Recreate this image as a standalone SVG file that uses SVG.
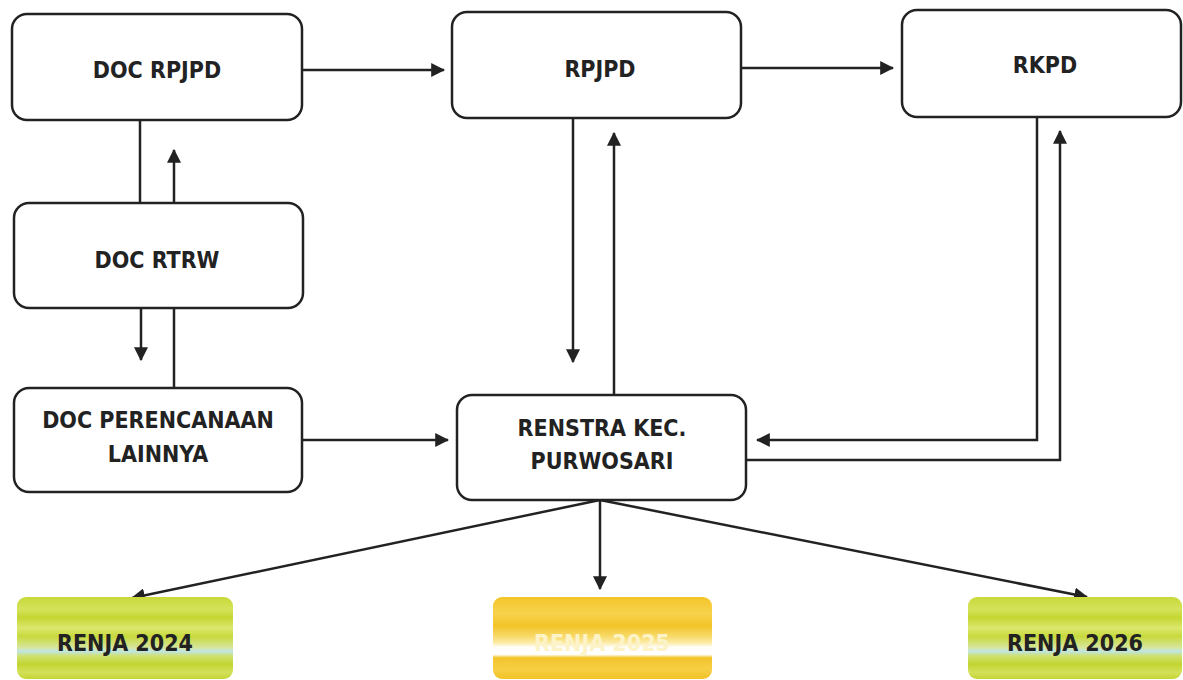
<svg xmlns="http://www.w3.org/2000/svg" width="1183" height="680" viewBox="0 0 1183 680">
<style>
.box{fill:#fff;stroke:#222;stroke-width:2.5}
.t{font-family:"DejaVu Sans Condensed","DejaVu Sans",sans-serif;font-stretch:condensed;font-weight:bold;font-size:23px;fill:#222;text-anchor:middle}
.ln{fill:none;stroke:#222;stroke-width:2.5}
</style>
<defs>
<marker id="ah" markerWidth="14" markerHeight="14" viewBox="0 0 12 12" refX="11" refY="6" orient="auto" markerUnits="userSpaceOnUse">
<path d="M0,0 L12,6 L0,12 Z" fill="#222"/>
</marker>
<linearGradient id="green" x1="0" y1="0" x2="0" y2="1">
<stop offset="0" stop-color="#c7d93a"/>
<stop offset="0.15" stop-color="#d4e25a"/>
<stop offset="0.25" stop-color="#c5d632"/>
<stop offset="0.38" stop-color="#dbe76e"/>
<stop offset="0.48" stop-color="#c8d93c"/>
<stop offset="0.62" stop-color="#d6e6a0"/>
<stop offset="0.66" stop-color="#bfe6e6"/>
<stop offset="0.72" stop-color="#d0e070"/>
<stop offset="0.82" stop-color="#c3d531"/>
<stop offset="0.92" stop-color="#d3e05a"/>
<stop offset="1" stop-color="#c4d534"/>
</linearGradient>
<linearGradient id="yellow" x1="0" y1="0" x2="0" y2="1">
<stop offset="0" stop-color="#f4c52a"/>
<stop offset="0.2" stop-color="#f7d24c"/>
<stop offset="0.35" stop-color="#f3c428"/>
<stop offset="0.48" stop-color="#f8da6a"/>
<stop offset="0.55" stop-color="#fbe9a0"/>
<stop offset="0.62" stop-color="#ffffff"/>
<stop offset="0.70" stop-color="#ffffff"/>
<stop offset="0.74" stop-color="#f3c52c"/>
<stop offset="0.88" stop-color="#f6cf44"/>
<stop offset="1" stop-color="#f2c226"/>
</linearGradient>
</defs>
<rect width="1183" height="680" fill="#fff"/>
<g id="connectors">
<line class="ln" x1="302" y1="70" x2="444" y2="70" marker-end="url(#ah)"/>
<line class="ln" x1="741" y1="68" x2="893" y2="68" marker-end="url(#ah)"/>
<line class="ln" x1="140" y1="120" x2="140" y2="203"/>
<line class="ln" x1="174" y1="203" x2="174" y2="150" marker-end="url(#ah)"/>
<line class="ln" x1="141" y1="308" x2="141" y2="360" marker-end="url(#ah)"/>
<line class="ln" x1="174" y1="308" x2="174" y2="388"/>
<line class="ln" x1="302" y1="440" x2="448" y2="440" marker-end="url(#ah)"/>
<line class="ln" x1="573" y1="118" x2="573" y2="362" marker-end="url(#ah)"/>
<line class="ln" x1="614" y1="395" x2="614" y2="133" marker-end="url(#ah)"/>
<polyline class="ln" points="1037,117 1037,440 757,440" marker-end="url(#ah)"/>
<polyline class="ln" points="746,460 1060,460 1060,131" marker-end="url(#ah)"/>
<line class="ln" x1="600" y1="500" x2="132" y2="598" marker-end="url(#ah)"/>
<line class="ln" x1="600" y1="500" x2="600" y2="589" marker-end="url(#ah)"/>
<line class="ln" x1="600" y1="500" x2="1087" y2="597" marker-end="url(#ah)"/>
</g>
<g id="doc-rpjpd"><rect class="box" x="12" y="14" width="290" height="106" rx="15"/><text class="t" x="157" y="78">DOC RPJPD</text></g>
<g id="rpjpd"><rect class="box" x="452" y="12" width="289" height="106" rx="15"/><text class="t" x="600" y="77">RPJPD</text></g>
<g id="rkpd"><rect class="box" x="902" y="10" width="279" height="107" rx="15"/><text class="t" x="1045" y="73">RKPD</text></g>
<g id="doc-rtrw"><rect class="box" x="14" y="203" width="289" height="105" rx="15"/><text class="t" x="157" y="268">DOC RTRW</text></g>
<g id="doc-perencanaan"><rect class="box" x="14" y="388" width="288" height="104" rx="15"/><text class="t" x="158" y="428">DOC PERENCANAAN</text><text class="t" x="158" y="462">LAINNYA</text></g>
<g id="renstra"><rect class="box" x="457" y="395" width="289" height="105" rx="15"/><text class="t" x="602" y="436">RENSTRA KEC.</text><text class="t" x="602" y="469">PURWOSARI</text></g>
<g id="renja-2024"><rect x="17" y="597" width="216" height="82" rx="9" fill="url(#green)"/><text class="t" x="125" y="651">RENJA 2024</text></g>
<g id="renja-2025"><rect x="493" y="597" width="219" height="82" rx="9" fill="url(#yellow)"/><text class="t" x="602" y="651" style="fill:#fdf3c8">RENJA 2025</text></g>
<g id="renja-2026"><rect x="968" y="597" width="214" height="82" rx="9" fill="url(#green)"/><text class="t" x="1075" y="651">RENJA 2026</text></g>
</svg>
